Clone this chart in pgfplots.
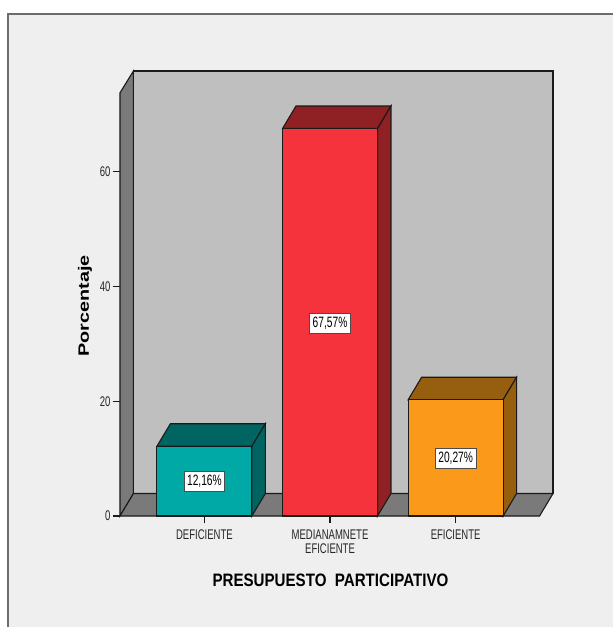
\documentclass[border=0pt]{standalone}
\usepackage{pgfplots}
\pgfplotsset{compat=1.18}
\usepackage{fontspec}
\setmainfont{Liberation Sans}
\newfontfamily\narrowfont[FakeStretch=0.68]{Liberation Sans}
\newfontfamily\titlefont[FakeStretch=0.84]{Liberation Sans}
\newfontfamily\widefont[FakeStretch=1.32]{Liberation Sans}
\definecolor{panel}{HTML}{EFEFEF}
\definecolor{wallback}{HTML}{BFBFBF}
\definecolor{wallside}{HTML}{7A7A7A}
\definecolor{tealf}{HTML}{00A8A6}
\definecolor{teald}{HTML}{006562}
\definecolor{redf}{HTML}{F4333C}
\definecolor{redd}{HTML}{8F2024}
\definecolor{orangef}{HTML}{FB9A1A}
\definecolor{oranged}{HTML}{965F10}
\definecolor{edge}{HTML}{1A1A1A}
\tikzset{vlabel/.style={fill=white,draw=black!70,line width=0.8pt,inner xsep=3pt,inner ysep=4pt,
    font=\narrowfont\fontsize{15}{16}\selectfont}}
\begin{document}
\begin{tikzpicture}
\useasboundingbox (-120pt,-111pt) rectangle (493pt,516pt);
\fill[white] (-120pt,-111pt) rectangle (493pt,516pt);
\fill[panel] (-112pt,-111pt) rectangle (493pt,502pt);
\draw[gray!85!black,line width=1.2pt] (-112pt,-111pt) -- (-112pt,502pt) -- (493pt,502pt);
\begin{axis}[
    scale only axis,
    width=433pt,
    height=445pt,
    xmin=0.328, xmax=3.775,
    ymin=0, ymax=77.6,
    clip=false,
    axis lines*=left,
    axis line style={draw=none},
    tick align=outside,
    tick style={edge,line width=1.1pt},
    major tick length=7pt,
    xtick={1,2,3},
    xticklabels={DEFICIENTE,MEDIANAMNETE\\EFICIENTE,EFICIENTE},
    ytick={0,20,40,60},
    /pgf/number format/assume math mode=true,
    ticklabel style={font=\narrowfont\fontsize{14}{14.5}\selectfont,text=black!85},
    xticklabel style={align=center,yshift=-3pt},
    yticklabel style={xshift=1pt},
    xlabel={PRESUPUESTO\ \ PARTICIPATIVO},
    xlabel style={at={(axis description cs:0.486,-0.144)},anchor=center,
        font=\titlefont\bfseries\fontsize{18}{20}\selectfont},
    ylabel={Porcentaje},
    ylabel style={at={(axis description cs:-0.081,0.472)},anchor=center,
        font=\widefont\bfseries\fontsize{15}{17}\selectfont},
    every axis plot/.append style={draw=edge,line width=1.1pt},
]
% walls and floor
\addplot[fill=wallback] coordinates {(0.435,3.92) (3.775,3.92) (3.775,77.6) (0.435,77.6)} --cycle;
\addplot[fill=wallside] coordinates {(0.328,0) (0.435,3.92) (0.435,77.6) (0.328,73.8)} --cycle;
\addplot[fill=wallside] coordinates {(0.328,0) (3.668,0) (3.775,3.92) (0.435,3.92)} --cycle;
% DEFICIENTE
\addplot[fill=teald] coordinates {(0.622,12.16) (1.378,12.16) (1.485,16.08) (0.729,16.08)} --cycle;
\addplot[fill=teald] coordinates {(1.378,0) (1.485,3.92) (1.485,16.08) (1.378,12.16)} --cycle;
\addplot[ybar,bar width=95pt,bar shift=0pt,fill=tealf] coordinates {(1,12.16)};
% MEDIANAMNETE EFICIENTE
\addplot[fill=redd] coordinates {(1.622,67.57) (2.378,67.57) (2.485,71.49) (1.729,71.49)} --cycle;
\addplot[fill=redd] coordinates {(2.378,0) (2.485,3.92) (2.485,71.49) (2.378,67.57)} --cycle;
\addplot[ybar,bar width=95pt,bar shift=0pt,fill=redf] coordinates {(2,67.57)};
% EFICIENTE
\addplot[fill=oranged] coordinates {(2.622,20.27) (3.378,20.27) (3.485,24.19) (2.729,24.19)} --cycle;
\addplot[fill=oranged] coordinates {(3.378,0) (3.485,3.92) (3.485,24.19) (3.378,20.27)} --cycle;
\addplot[ybar,bar width=95pt,bar shift=0pt,fill=orangef] coordinates {(3,20.27)};
% value labels
\node[vlabel] at (axis cs:1,6.08) {12,16\%};
\node[vlabel] at (axis cs:2,33.6) {67,57\%};
\node[vlabel] at (axis cs:3,10.0) {20,27\%};
\end{axis}
\end{tikzpicture}
\end{document}
